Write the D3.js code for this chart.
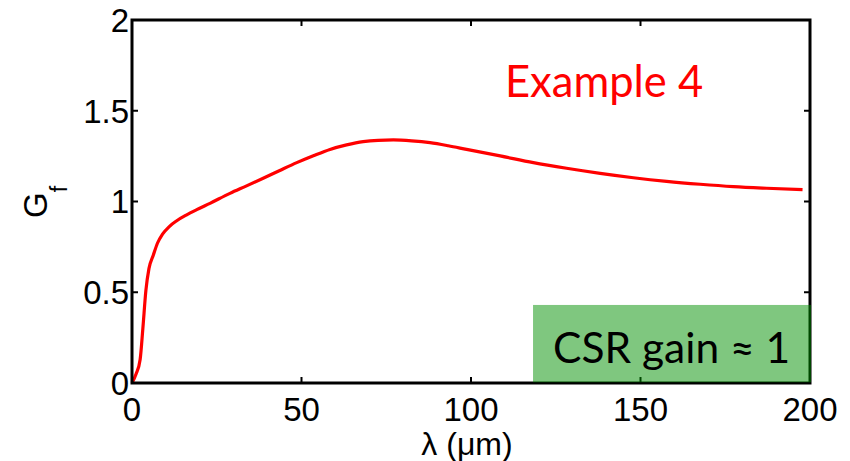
<!DOCTYPE html>
<html>
<head>
<meta charset="utf-8">
<script src="https://cdn.jsdelivr.net/npm/d3@7"></script>
<style>
  html, body { margin: 0; padding: 0; background: #fff; }
  svg { display: block; }
</style>
</head>
<body>
<svg id="chart" width="850" height="461"></svg>
<script>
// Gain factor G_f versus wavelength λ (μm)
const lambda = [0, 1.2, 2.4, 3.2, 4.1, 5.0, 6.3, 7.5, 9.0, 11, 13.2, 16, 19.1, 23, 28.9, 33.8, 38.7, 43.6, 48.6, 53.5, 58.4, 63.3, 68.2, 72.6, 77.1, 82.5, 87.9, 93.3, 98.7, 108.6, 118.4, 128.2, 138.1, 147.9, 157.7, 167.6, 177.4, 187.2, 197.8];
const gain   = [0, 0.05, 0.13, 0.30, 0.51, 0.63, 0.705, 0.77, 0.82, 0.862, 0.894, 0.925, 0.955, 0.99, 1.045, 1.086, 1.128, 1.171, 1.214, 1.252, 1.287, 1.312, 1.330, 1.337, 1.339, 1.334, 1.324, 1.307, 1.287, 1.251, 1.214, 1.183, 1.155, 1.131, 1.111, 1.095, 1.082, 1.073, 1.065];

const xTicks = [0, 50, 100, 150, 200];
const yTicks = [0, 0.5, 1, 1.5, 2];
const yTickLabels = ["0", "0.5", "1", "1.5", "2"];

// Annotation band: λ range and G_f range covered by the shaded box
const bandLambda = [118.3, 200.3];
const bandGain = [0.004, 0.43];

const svg = d3.select("#chart");
const plotLeft = 132, plotRight = 810, plotTop = 20, plotBottom = 383;

const x = d3.scaleLinear().domain([0, 200]).range([plotLeft, plotRight]);
const y = d3.scaleLinear().domain([0, 2]).range([plotBottom, plotTop]);

const tickFont = "'Liberation Sans', Arial, sans-serif";
const tickLen = 6;

// Curve
const line = d3.line()
  .x((d, i) => x(lambda[i]))
  .y((d, i) => y(gain[i]))
  .curve(d3.curveMonotoneX);

svg.append("path")
  .datum(gain)
  .attr("d", line)
  .attr("fill", "none")
  .attr("stroke", "#ff0000")
  .attr("stroke-width", 3.2)
  .attr("stroke-linejoin", "round");

// Axes box with inward ticks on all four sides
const axisG = svg.append("g")
  .attr("stroke", "#000")
  .attr("stroke-width", 3)
  .attr("fill", "none");

axisG.append("rect")
  .attr("x", plotLeft).attr("y", plotTop)
  .attr("width", plotRight - plotLeft).attr("height", plotBottom - plotTop);

xTicks.forEach(t => {
  axisG.append("line").attr("x1", x(t)).attr("x2", x(t))
    .attr("y1", plotBottom).attr("y2", plotBottom - tickLen).attr("stroke-width", 2);
  axisG.append("line").attr("x1", x(t)).attr("x2", x(t))
    .attr("y1", plotTop).attr("y2", plotTop + tickLen).attr("stroke-width", 2);
});
yTicks.forEach(t => {
  axisG.append("line").attr("x1", plotLeft).attr("x2", plotLeft + tickLen)
    .attr("y1", y(t)).attr("y2", y(t)).attr("stroke-width", 2);
  axisG.append("line").attr("x1", plotRight).attr("x2", plotRight - tickLen)
    .attr("y1", y(t)).attr("y2", y(t)).attr("stroke-width", 2);
});

// Tick labels
svg.append("g").selectAll("text")
  .data(xTicks).join("text")
  .attr("x", d => x(d))
  .attr("y", 421)
  .attr("text-anchor", "middle")
  .attr("font-family", tickFont)
  .attr("font-size", 33)
  .attr("fill", "#000")
  .text(d => d);

svg.append("g").selectAll("text")
  .data(yTicks).join("text")
  .attr("x", plotLeft - 3)
  .attr("y", d => y(d))
  .attr("dy", "0.36em")
  .attr("text-anchor", "end")
  .attr("font-family", tickFont)
  .attr("font-size", 33)
  .attr("fill", "#000")
  .text((d, i) => yTickLabels[i]);

// Axis titles
svg.append("text")
  .attr("x", 467)
  .attr("y", 455)
  .attr("text-anchor", "middle")
  .attr("font-family", tickFont)
  .attr("font-size", 32)
  .attr("fill", "#000")
  .text("λ (μm)");

const yTitle = svg.append("text")
  .attr("transform", "translate(47,218) rotate(-90)")
  .attr("font-family", tickFont)
  .attr("fill", "#000");
yTitle.append("tspan").attr("font-size", 33).text("G");
yTitle.append("tspan").attr("font-size", 23).attr("dy", 20).text("f");

// Example label
svg.append("text")
  .attr("x", 505)
  .attr("y", 97)
  .attr("font-family", "Lato, 'Open Sans', sans-serif")
  .attr("font-size", 43.5)
  .attr("fill", "#ff0000")
  .text("Example 4");

// Shaded annotation box
svg.append("rect")
  .attr("x", x(bandLambda[0]))
  .attr("y", y(bandGain[1]))
  .attr("width", x(bandLambda[1]) - x(bandLambda[0]))
  .attr("height", y(bandGain[0]) - y(bandGain[1]))
  .attr("fill", "#009000")
  .attr("fill-opacity", 0.5);

svg.append("text")
  .attr("x", 553)
  .attr("y", 363)
  .attr("font-family", "Lato, 'Open Sans', sans-serif")
  .attr("font-size", 42.5)
  .attr("fill", "#000")
  .text("CSR gain ≈ 1");
</script>
</body>
</html>
